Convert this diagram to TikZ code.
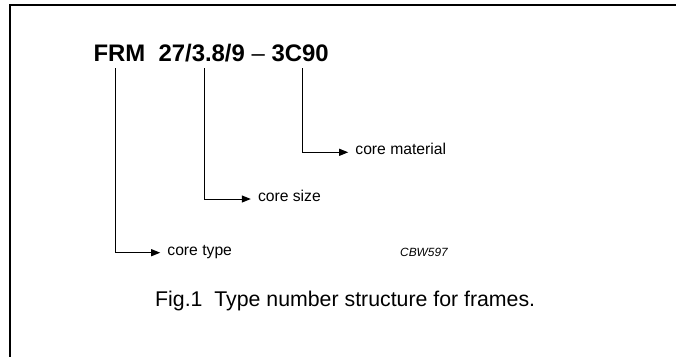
\documentclass[tikz,border=0pt]{standalone}
\usepackage{fontspec}
\setmainfont{Liberation Sans}
\usetikzlibrary{arrows.meta}
\begin{document}
\begin{tikzpicture}[x=1pt,y=-1pt,
  frameline/.style={line width=2pt},
  lead/.style={line width=1pt,-{Triangle[length=9pt,width=7pt]}},
  lbl/.style={anchor=west,inner xsep=7pt,inner ysep=0pt,text height=0.52em,text depth=0pt,font=\fontsize{15.7}{18}\selectfont},
  titletext/.style={anchor=base west,inner sep=0pt,font=\fontsize{23.9}{28}\selectfont\bfseries},
  captext/.style={anchor=base west,inner sep=0pt,font=\fontsize{21.3}{25}\selectfont},
  codetext/.style={anchor=base west,inner sep=0pt,font=\fontsize{11.9}{14}\selectfont\itshape}]
\useasboundingbox (0,0) rectangle (676,356);
\draw[frameline] (10,357) -- (10,5.2) -- (677,5.2);
\node[titletext] (title) at (93.3,61) {FRM\ \ 27/3.8/9 {\mdseries –} 3C90};
\coordinate (t1) at (115.7,68);
\coordinate (t2) at (204.5,68);
\coordinate (t3) at (302.7,68);
\node[lbl] (type) at (160.2,252.7) {core type};
\node[lbl] (size) at (250.8,199) {core size};
\node[lbl] (material) at (348.2,152.3) {core material};
\draw[lead] (t1) |- (type.west);
\draw[lead] (t2) |- (size.west);
\draw[lead] (t3) |- (material.west);
\node[codetext] (code) at (400,256.6) {CBW597};
\node[captext] (cap) at (155,306.7) {Fig.1\ \ Type number structure for frames.};
\end{tikzpicture}
\end{document}
